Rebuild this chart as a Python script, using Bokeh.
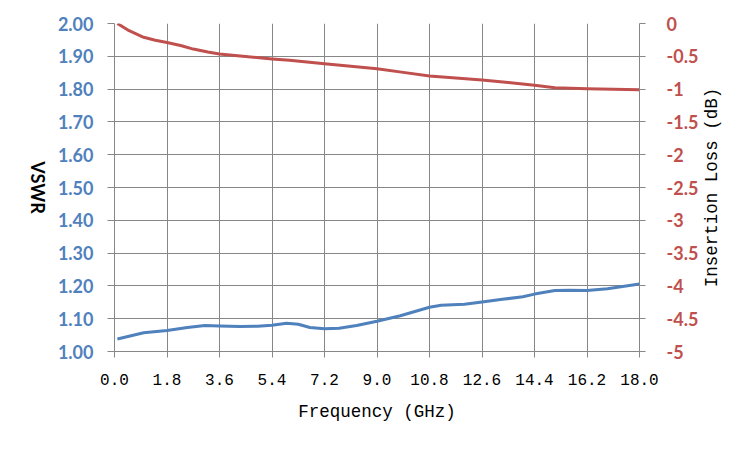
import math
from bokeh.plotting import figure
from bokeh.layouts import row
from bokeh.models import Range1d, LinearAxis, FixedTicker, NumeralTickFormatter, Label
from bokeh.embed import file_html
from bokeh.resources import INLINE

# ---- data ----
freq_vswr = [0.1, 1.0, 1.8, 2.5, 3.1, 3.6, 4.3, 4.9, 5.4, 5.9, 6.3, 6.7, 7.2, 7.7,
             8.3, 9.0, 9.8, 10.8, 11.2, 12.0, 12.6, 13.3, 14.0, 14.4, 15.1, 15.6,
             16.2, 16.9, 18.0]
vswr = [1.038, 1.057, 1.064, 1.073, 1.079, 1.078, 1.076, 1.077, 1.080, 1.086,
        1.083, 1.073, 1.069, 1.071, 1.079, 1.092, 1.109, 1.135, 1.141, 1.144,
        1.151, 1.159, 1.167, 1.175, 1.186, 1.187, 1.186, 1.191, 1.206]

freq_il = [0.1, 0.5, 1.0, 1.4, 1.8, 2.3, 2.7, 3.2, 3.6, 4.4, 5.4, 6.0, 7.2, 9.0,
           9.9, 10.8, 11.7, 12.6, 13.5, 14.4, 15.1, 16.2, 18.0]
il = [0.0, -0.11, -0.21, -0.255, -0.29, -0.34, -0.39, -0.435, -0.465, -0.50,
      -0.54, -0.56, -0.615, -0.69, -0.745, -0.80, -0.83, -0.86, -0.90, -0.94,
      -0.98, -0.995, -1.01]

x_ticks = [0.0, 1.8, 3.6, 5.4, 7.2, 9.0, 10.8, 12.6, 14.4, 16.2, 18.0]
vswr_ticks = [1.0, 1.1, 1.2, 1.3, 1.4, 1.5, 1.6, 1.7, 1.8, 1.9, 2.0]
il_ticks = [0, -0.5, -1, -1.5, -2, -2.5, -3, -3.5, -4, -4.5, -5]
il_labels = ["0", "-0.5", "-1", "-1.5", "-2", "-2.5", "-3", "-3.5", "-4", "-4.5", "-5"]

BLUE = "#4F81BD"
RED = "#C0504D"
GRID = "#878787"

H = 445
LW, RW = 50, 46          # widths of the side title strips
FL, FT, FW, FH = 114, 23, 525, 328   # frame position on the page
BL = FL - LW
BR = 62
MW = BL + FW + BR

p = figure(width=MW, height=H, output_backend="svg", toolbar_location=None,
           x_range=Range1d(0, 18), y_range=Range1d(1.0, 2.0),
           min_border_left=BL, min_border_right=BR,
           min_border_top=FT, min_border_bottom=H - FT - FH)
p.outline_line_color = None
p.background_fill_color = "white"
p.border_fill_color = "white"

p.extra_y_ranges = {"il": Range1d(-5, 0)}

# grids
p.xgrid.ticker = FixedTicker(ticks=x_ticks)
p.ygrid.ticker = FixedTicker(ticks=vswr_ticks)
for g in (p.xgrid, p.ygrid):
    g.grid_line_color = GRID
    g.grid_line_width = 1

# bottom axis
xa = p.xaxis[0]
xa.ticker = FixedTicker(ticks=x_ticks)
xa.formatter = NumeralTickFormatter(format="0.0")
xa.axis_label = "Frequency (GHz)"
xa.axis_label_text_font = "Liberation Mono"
xa.axis_label_text_font_size = "17.5px"
xa.axis_label_text_font_style = "normal"
xa.axis_label_text_color = "black"
xa.axis_label_standoff = 14
xa.major_label_text_font = "Liberation Mono"
xa.major_label_text_font_size = "16px"
xa.major_label_text_color = "black"
xa.major_label_standoff = 16
xa.major_tick_out = 6
xa.major_tick_in = 0
xa.minor_tick_line_color = None
xa.axis_line_color = GRID
xa.major_tick_line_color = GRID

# left axis
ya = p.yaxis[0]
ya.ticker = FixedTicker(ticks=vswr_ticks)
ya.formatter = NumeralTickFormatter(format="0.00")
ya.major_label_text_font = "Lato"
ya.major_label_text_font_size = "18px"
ya.major_label_text_font_style = "bold"
ya.major_label_text_color = BLUE
ya.major_label_standoff = 14
ya.major_tick_out = 7
ya.major_tick_in = 0
ya.minor_tick_line_color = None
ya.axis_line_color = GRID
ya.major_tick_line_color = GRID

# right axis
ra = LinearAxis(y_range_name="il", ticker=FixedTicker(ticks=il_ticks),
                major_label_overrides={t: s for t, s in zip(il_ticks, il_labels)})
ra.major_label_text_font = "Lato"
ra.major_label_text_font_size = "18px"
ra.major_label_text_font_style = "bold"
ra.major_label_text_color = RED
ra.major_label_standoff = 21
ra.major_tick_out = 6
ra.major_tick_in = 0
ra.minor_tick_line_color = None
ra.axis_line_color = GRID
ra.major_tick_line_color = GRID
p.add_layout(ra, "right")

# lines
p.line(freq_il, il, y_range_name="il", line_color=RED, line_width=3, line_join="round")
p.line(freq_vswr, vswr, line_color=BLUE, line_width=3, line_join="round")


def title_strip(width, text, cx, angle, font, size, style):
    f = figure(width=width, height=H, output_backend="svg", toolbar_location=None,
               x_axis_type=None, y_axis_type=None,
               x_range=Range1d(0, width), y_range=Range1d(0, H),
               min_border_left=0, min_border_right=0,
               min_border_top=0, min_border_bottom=0)
    f.outline_line_color = None
    f.grid.visible = False
    f.background_fill_color = "white"
    f.border_fill_color = "white"
    # the strip's frame is aligned with the main plot frame by the row layout
    f.add_layout(Label(x=cx, y=FH / 2, x_units="screen", y_units="screen",
                       text=text, angle=angle, text_align="center",
                       text_baseline="middle", text_font=font, text_font_size=size,
                       text_font_style=style, text_color="black"))
    return f


left_strip = title_strip(LW, "VSWR", 37, -math.pi / 2, "Lato", "18px", "bold")
right_strip = title_strip(RW, "Insertion Loss (dB)", 711 - (LW + MW), math.pi / 2,
                          "Liberation Mono", "17.5px", "normal")

layout = row(left_strip, p, right_strip, spacing=0)

open("out.html", "w").write(file_html(layout, INLINE))
